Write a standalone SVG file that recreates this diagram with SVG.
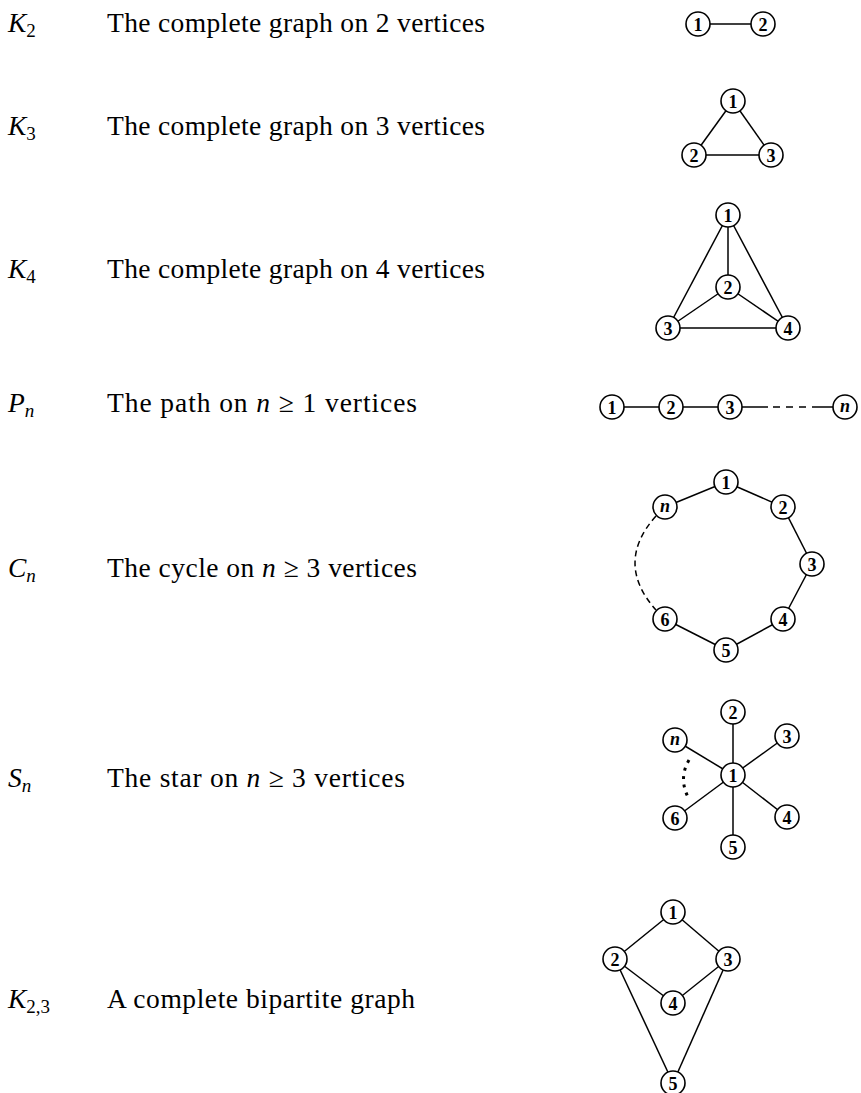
<svg xmlns="http://www.w3.org/2000/svg" width="861" height="1093" viewBox="0 0 861 1093">
<style>
  .bg{fill:#fff}
  .lab{font-family:"Liberation Serif","Times New Roman",serif;font-size:27.5px;fill:#000}
  .it{font-style:italic}
  .sub{font-size:19px}
  .node circle{fill:#fff;stroke:#000;stroke-width:1.6}
  .node text{font-family:"Liberation Serif","Times New Roman",serif;font-weight:bold;font-size:18px;text-anchor:middle;dominant-baseline:central;fill:#000}
  .node text.ni{font-style:italic}
  .edges line,.edges path{stroke:#000;stroke-width:1.5;fill:none}
  .edges .dash{stroke-dasharray:6,4}
  .edges .dots{stroke-width:3;stroke-dasharray:3,5.5}
</style>
<rect class="bg" x="0" y="0" width="861" height="1093"/>

<g id="labels">
  <text class="lab" x="8" y="32"><tspan class="it">K</tspan><tspan class="sub" dy="5">2</tspan></text>
  <text class="lab" x="107" y="32" textLength="378">The complete graph on 2 vertices</text>
  <text class="lab" x="8" y="135"><tspan class="it">K</tspan><tspan class="sub" dy="5">3</tspan></text>
  <text class="lab" x="107" y="135" textLength="378">The complete graph on 3 vertices</text>
  <text class="lab" x="8" y="278"><tspan class="it">K</tspan><tspan class="sub" dy="5">4</tspan></text>
  <text class="lab" x="107" y="278" textLength="378">The complete graph on 4 vertices</text>
  <text class="lab" x="8" y="412"><tspan class="it">P</tspan><tspan class="sub it" dy="5">n</tspan></text>
  <text class="lab" x="107" y="412" textLength="310">The path on <tspan class="it">n</tspan> ≥ 1 vertices</text>
  <text class="lab" x="8" y="577"><tspan class="it">C</tspan><tspan class="sub it" dy="5">n</tspan></text>
  <text class="lab" x="107" y="577" textLength="310">The cycle on <tspan class="it">n</tspan> ≥ 3 vertices</text>
  <text class="lab" x="8" y="787"><tspan class="it">S</tspan><tspan class="sub it" dy="5">n</tspan></text>
  <text class="lab" x="107" y="787" textLength="298">The star on <tspan class="it">n</tspan> ≥ 3 vertices</text>
  <text class="lab" x="8" y="1008"><tspan class="it">K</tspan><tspan class="sub" dy="5">2,3</tspan></text>
  <text class="lab" x="107" y="1008" textLength="308">A complete bipartite graph</text>
</g>

<g class="edges" id="connectors">
  <line x1="698" y1="24" x2="763" y2="24"/>
  <line x1="733" y1="101" x2="694" y2="155"/>
  <line x1="733" y1="101" x2="771" y2="155"/>
  <line x1="694" y1="155" x2="771" y2="155"/>
  <line x1="728" y1="215" x2="728" y2="287"/>
  <line x1="728" y1="215" x2="668" y2="328"/>
  <line x1="728" y1="215" x2="788" y2="328"/>
  <line x1="728" y1="287" x2="668" y2="328"/>
  <line x1="728" y1="287" x2="788" y2="328"/>
  <line x1="668" y1="328" x2="788" y2="328"/>
  <line x1="612" y1="407" x2="730" y2="407"/>
  <line x1="730" y1="407" x2="768" y2="407"/>
  <line x1="768" y1="407" x2="812" y2="407" style="stroke-dasharray:7,6;stroke-dashoffset:-5"/>
  <line x1="812" y1="407" x2="845" y2="407"/>
  <line x1="726" y1="482" x2="783" y2="507"/>
  <line x1="783" y1="507" x2="812" y2="564"/>
  <line x1="812" y1="564" x2="783" y2="619"/>
  <line x1="783" y1="619" x2="726" y2="650"/>
  <line x1="726" y1="650" x2="665" y2="619"/>
  <line x1="665" y1="507" x2="726" y2="482"/>
  <path class="dash" d="M656,516 Q614,563 656,610"/>
  <line x1="733" y1="775" x2="733" y2="712"/>
  <line x1="733" y1="775" x2="787" y2="736"/>
  <line x1="733" y1="775" x2="787" y2="817"/>
  <line x1="733" y1="775" x2="733" y2="847"/>
  <line x1="733" y1="775" x2="675" y2="818"/>
  <line x1="733" y1="775" x2="675" y2="740"/>
  <path class="dots" d="M689,760 Q678,779 689,799"/>
  <line x1="673" y1="912" x2="615" y2="959"/>
  <line x1="673" y1="912" x2="728" y2="959"/>
  <line x1="615" y1="959" x2="673" y2="1003"/>
  <line x1="728" y1="959" x2="673" y2="1003"/>
  <line x1="615" y1="959" x2="673" y2="1083"/>
  <line x1="728" y1="959" x2="673" y2="1083"/>
</g>

<g id="k2-1" class="node"><circle cx="698" cy="24" r="12"/><text x="698" y="25">1</text></g>
<g id="k2-2" class="node"><circle cx="763" cy="24" r="12"/><text x="763" y="25">2</text></g>
<g id="k3-1" class="node"><circle cx="733" cy="101" r="12"/><text x="733" y="102">1</text></g>
<g id="k3-2" class="node"><circle cx="694" cy="155" r="12"/><text x="694" y="156">2</text></g>
<g id="k3-3" class="node"><circle cx="771" cy="155" r="12"/><text x="771" y="156">3</text></g>
<g id="k4-1" class="node"><circle cx="728" cy="215" r="12"/><text x="728" y="216">1</text></g>
<g id="k4-2" class="node"><circle cx="728" cy="287" r="12"/><text x="728" y="288">2</text></g>
<g id="k4-3" class="node"><circle cx="668" cy="328" r="12"/><text x="668" y="329">3</text></g>
<g id="k4-4" class="node"><circle cx="788" cy="328" r="12"/><text x="788" y="329">4</text></g>
<g id="p-1" class="node"><circle cx="612" cy="407" r="12"/><text x="612" y="408">1</text></g>
<g id="p-2" class="node"><circle cx="671" cy="407" r="12"/><text x="671" y="408">2</text></g>
<g id="p-3" class="node"><circle cx="730" cy="407" r="12"/><text x="730" y="408">3</text></g>
<g id="p-n" class="node"><circle cx="845" cy="407" r="12"/><text class="ni" x="845" y="406">n</text></g>
<g id="c-1" class="node"><circle cx="726" cy="482" r="12"/><text x="726" y="483">1</text></g>
<g id="c-2" class="node"><circle cx="783" cy="507" r="12"/><text x="783" y="508">2</text></g>
<g id="c-3" class="node"><circle cx="812" cy="564" r="12"/><text x="812" y="565">3</text></g>
<g id="c-4" class="node"><circle cx="783" cy="619" r="12"/><text x="783" y="620">4</text></g>
<g id="c-5" class="node"><circle cx="726" cy="650" r="12"/><text x="726" y="651">5</text></g>
<g id="c-6" class="node"><circle cx="665" cy="619" r="12"/><text x="665" y="620">6</text></g>
<g id="c-n" class="node"><circle cx="665" cy="507" r="12"/><text class="ni" x="665" y="506">n</text></g>
<g id="s-1" class="node"><circle cx="733" cy="775" r="12"/><text x="733" y="776">1</text></g>
<g id="s-2" class="node"><circle cx="733" cy="712" r="12"/><text x="733" y="713">2</text></g>
<g id="s-3" class="node"><circle cx="787" cy="736" r="12"/><text x="787" y="737">3</text></g>
<g id="s-4" class="node"><circle cx="787" cy="817" r="12"/><text x="787" y="818">4</text></g>
<g id="s-5" class="node"><circle cx="733" cy="847" r="12"/><text x="733" y="848">5</text></g>
<g id="s-6" class="node"><circle cx="675" cy="818" r="12"/><text x="675" y="819">6</text></g>
<g id="s-n" class="node"><circle cx="675" cy="740" r="12"/><text class="ni" x="675" y="739">n</text></g>
<g id="b-1" class="node"><circle cx="673" cy="912" r="12"/><text x="673" y="913">1</text></g>
<g id="b-2" class="node"><circle cx="615" cy="959" r="12"/><text x="615" y="960">2</text></g>
<g id="b-3" class="node"><circle cx="728" cy="959" r="12"/><text x="728" y="960">3</text></g>
<g id="b-4" class="node"><circle cx="673" cy="1003" r="12"/><text x="673" y="1004">4</text></g>
<g id="b-5" class="node"><circle cx="673" cy="1083" r="12"/><text x="673" y="1084">5</text></g>
</svg>
